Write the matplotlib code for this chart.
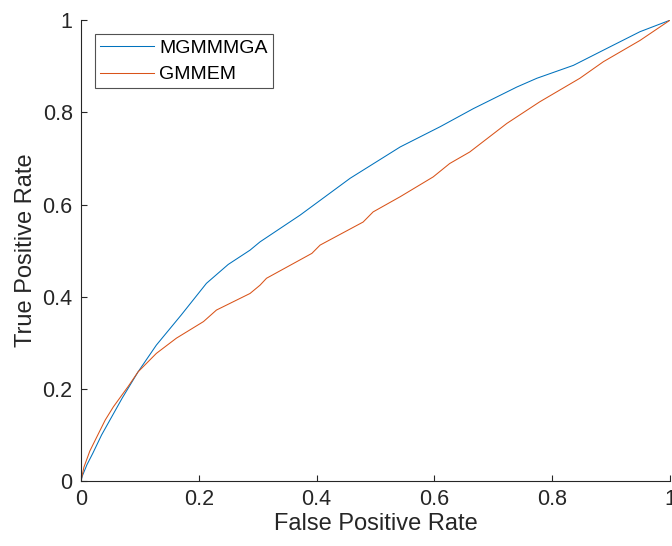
import matplotlib
matplotlib.use("Agg")
import matplotlib.pyplot as plt

plt.rcParams['font.family'] = ['Liberation Sans', 'DejaVu Sans']

fpr_mgmmmga = [0, 0.002, 0.01, 0.02, 0.035, 0.049, 0.07, 0.097, 0.128, 0.17, 0.213, 0.25,
               0.287, 0.304, 0.372, 0.457, 0.542, 0.610, 0.666, 0.740, 0.774, 0.836,
               0.904, 0.949, 1.0]
tpr_mgmmmga = [0, 0.01, 0.035, 0.06, 0.10, 0.132, 0.18, 0.237, 0.295, 0.36, 0.429, 0.47,
               0.501, 0.519, 0.577, 0.657, 0.725, 0.769, 0.808, 0.855, 0.874, 0.902,
               0.946, 0.975, 1.0]

fpr_gmmem = [0, 0.005, 0.015, 0.027, 0.041, 0.055, 0.08, 0.097, 0.128, 0.162, 0.208, 0.230,
             0.287, 0.304, 0.315, 0.392, 0.406, 0.479, 0.496, 0.542, 0.598, 0.626, 0.660,
             0.723, 0.779, 0.847, 0.887, 0.949, 1.0]
tpr_gmmem = [0, 0.03, 0.065, 0.096, 0.132, 0.161, 0.205, 0.237, 0.277, 0.31, 0.346, 0.371,
             0.407, 0.425, 0.44, 0.494, 0.512, 0.562, 0.584, 0.617, 0.66, 0.689, 0.714,
             0.776, 0.823, 0.874, 0.910, 0.956, 1.0]

labels = ["MGMMMGA", "GMMEM"]
ticks = [0, 0.2, 0.4, 0.6, 0.8, 1]
tick_labels = ["0", "0.2", "0.4", "0.6", "0.8", "1"]

fig = plt.figure(figsize=(6.72, 5.46), dpi=100)
ax = fig.add_axes([0.1205, 0.119, 0.8765, 0.844])
ax.plot(fpr_mgmmmga, tpr_mgmmmga, color='#0072BD', lw=0.75, label=labels[0])
ax.plot(fpr_gmmem, tpr_gmmem, color='#D95319', lw=0.75, label=labels[1])
ax.set_xlim(0, 1)
ax.set_ylim(0, 1)
ax.set_xticks(ticks)
ax.set_xticklabels(tick_labels)
ax.set_yticks(ticks)
ax.set_yticklabels(tick_labels)
for s in ['top', 'right']:
    ax.spines[s].set_visible(False)
for s in ['left', 'bottom']:
    ax.spines[s].set_color('#262626')
    ax.spines[s].set_linewidth(0.8)
ax.tick_params(direction='in', length=4, width=0.8, color='#262626',
               labelcolor='#262626', labelsize=15.5, pad=6)
ax.set_xlabel("False Positive Rate", fontsize=17, color='#262626', labelpad=2)
ax.set_ylabel("True Positive Rate", fontsize=17, color='#262626', labelpad=4)
leg = ax.legend(loc='upper left', bbox_to_anchor=(0.024, 0.969), fontsize=14,
                frameon=True, fancybox=False, edgecolor='#262626', handlelength=2.8,
                handletextpad=0.25, borderpad=0.25, labelspacing=0.45, borderaxespad=0)
leg.get_frame().set_linewidth(0.8)
for t in leg.get_texts():
    t.set_color('black')
fig.savefig("out.png", dpi=100)
